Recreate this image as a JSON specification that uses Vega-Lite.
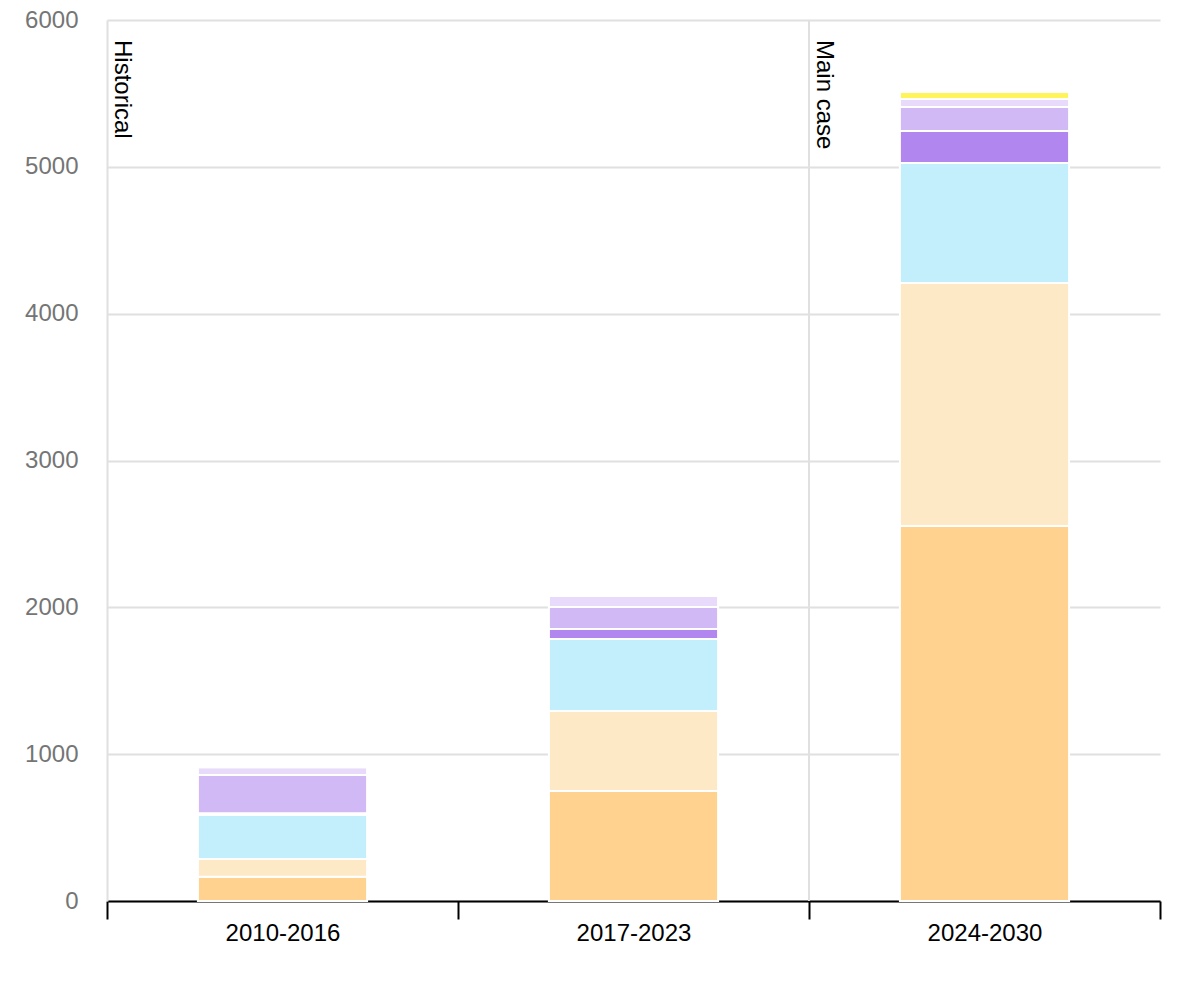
{
  "$schema": "https://vega.github.io/schema/vega-lite/v6.json",
  "width": 1053,
  "height": 881,
  "autosize": {"type": "none"},
  "padding": {"left": 107, "top": 20, "right": 40, "bottom": 99},
  "config": {
    "font": "Liberation Sans",
    "view": {"stroke": null},
    "axis": {"labelFont": "Liberation Sans"}
  },
  "datasets": {
    "bars": [
      {"period": "2010-2016", "tech": "Solar PV utility", "order": 1, "value": 165},
      {"period": "2010-2016", "tech": "Solar PV distributed", "order": 2, "value": 121},
      {"period": "2010-2016", "tech": "Onshore wind", "order": 3, "value": 300},
      {"period": "2010-2016", "tech": "Offshore wind", "order": 4, "value": 12},
      {"period": "2010-2016", "tech": "Hydropower", "order": 5, "value": 260},
      {"period": "2010-2016", "tech": "Bioenergy", "order": 6, "value": 53},
      {"period": "2010-2016", "tech": "Other renewables", "order": 7, "value": 0},
      {"period": "2017-2023", "tech": "Solar PV utility", "order": 1, "value": 750},
      {"period": "2017-2023", "tech": "Solar PV distributed", "order": 2, "value": 544},
      {"period": "2017-2023", "tech": "Onshore wind", "order": 3, "value": 490},
      {"period": "2017-2023", "tech": "Offshore wind", "order": 4, "value": 68},
      {"period": "2017-2023", "tech": "Hydropower", "order": 5, "value": 150},
      {"period": "2017-2023", "tech": "Bioenergy", "order": 6, "value": 75},
      {"period": "2017-2023", "tech": "Other renewables", "order": 7, "value": 0},
      {"period": "2024-2030", "tech": "Solar PV utility", "order": 1, "value": 2554},
      {"period": "2024-2030", "tech": "Solar PV distributed", "order": 2, "value": 1655},
      {"period": "2024-2030", "tech": "Onshore wind", "order": 3, "value": 817},
      {"period": "2024-2030", "tech": "Offshore wind", "order": 4, "value": 218},
      {"period": "2024-2030", "tech": "Hydropower", "order": 5, "value": 164},
      {"period": "2024-2030", "tech": "Bioenergy", "order": 6, "value": 54},
      {"period": "2024-2030", "tech": "Other renewables", "order": 7, "value": 48}
    ],
    "labels": [
      {"period": "2010-2016", "label": "Historical"},
      {"period": "2024-2030", "label": "Main case"}
    ],
    "divider": [
      {"period": "2024-2030"}
    ]
  },
  "layer": [
    {
      "data": {"name": "bars"},
      "mark": {"type": "bar", "width": {"band": 0.482}, "stroke": "white", "strokeWidth": 2},
      "encoding": {
        "x": {
          "field": "period",
          "type": "nominal",
          "sort": ["2010-2016", "2017-2023", "2024-2030"],
          "scale": {"paddingInner": 0, "paddingOuter": 0},
          "axis": {
            "title": null,
            "labelAngle": 0,
            "labelFontSize": 24,
            "labelColor": "#000000",
            "labelPadding": 2,
            "tickBand": "extent",
            "tickSize": 18,
            "tickWidth": 2,
            "tickColor": "#000000",
            "domainColor": "#000000",
            "domainWidth": 2,
            "grid": false
          }
        },
        "y": {
          "field": "value",
          "type": "quantitative",
          "stack": "zero",
          "scale": {"domain": [0, 6000]},
          "axis": {
            "title": null,
            "values": [0, 1000, 2000, 3000, 4000, 5000, 6000],
            "format": "d",
            "labelFontSize": 24,
            "labelColor": "#757575",
            "labelPadding": 29,
            "ticks": false,
            "domain": true,
            "domainColor": "#e0e0e0",
            "domainWidth": 2,
            "grid": true,
            "gridColor": "#e0e0e0",
            "gridWidth": 2
          }
        },
        "color": {
          "field": "tech",
          "type": "nominal",
          "scale": {
            "domain": ["Solar PV utility", "Solar PV distributed", "Onshore wind", "Offshore wind", "Hydropower", "Bioenergy", "Other renewables"],
            "range": ["#FFD38F", "#FEE9C7", "#C3EEFC", "#B286EF", "#D1B9F6", "#E7DAFA", "#FFF459"]
          },
          "legend": null
        },
        "order": {"field": "order", "type": "quantitative"}
      }
    },
    {
      "data": {"name": "divider"},
      "mark": {"type": "rule", "color": "#e0e0e0", "strokeWidth": 2},
      "encoding": {
        "x": {"field": "period", "type": "nominal", "bandPosition": 0}
      }
    },
    {
      "data": {"name": "labels"},
      "mark": {
        "type": "text",
        "angle": 90,
        "align": "left",
        "baseline": "alphabetic",
        "fontSize": 24,
        "color": "#000000",
        "dx": 20,
        "dy": -8
      },
      "encoding": {
        "x": {"field": "period", "type": "nominal", "bandPosition": 0},
        "y": {"datum": 6000},
        "text": {"field": "label"}
      }
    }
  ]
}
